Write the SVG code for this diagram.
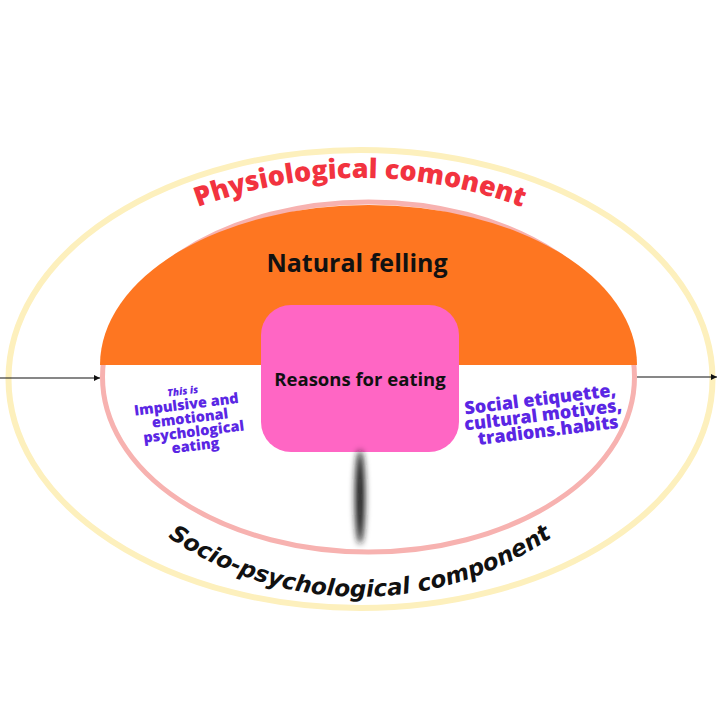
<svg xmlns="http://www.w3.org/2000/svg" width="720" height="720" viewBox="0 0 720 720">
  <style>
    .purple { fill: #5a26e4; font-family: "Open Sans", "Liberation Sans", sans-serif; font-weight: 800; text-anchor: middle; }
    .title { font-family: "Open Sans", "Liberation Sans", sans-serif; font-weight: 700; text-anchor: middle; fill: #111; }
    .conn { stroke: #111; stroke-width: 1.2; fill: none; marker-end: url(#arrow); }
  </style>
  <defs>
    <marker id="arrow" viewBox="0 0 10 10" refX="10" refY="5" markerWidth="6" markerHeight="6" markerUnits="userSpaceOnUse" orient="auto">
      <path d="M0,0 L10,5 L0,10 Z" fill="#111"/>
    </marker>
    <filter id="blur" x="-2" y="-0.5" width="5" height="2">
      <feGaussianBlur stdDeviation="3"/>
    </filter>
    <path id="topArc" d="M 130,238.6 A 467,467 0 0 1 590,238.6"/>
    <path id="botArc" d="M 120,497 A 338.6,338.6 0 0 0 600,497"/>
  </defs>
  <rect width="720" height="720" fill="#ffffff"/>

  <g id="outer">
    <ellipse cx="360.5" cy="379" rx="352" ry="229" fill="none" stroke="#fdf0bd" stroke-width="6"/>
  </g>

  <g id="inner">
    <ellipse cx="368.5" cy="377" rx="266" ry="175" fill="#ffffff" stroke="#f7b2b0" stroke-width="5"/>
    <path d="M 100,365 A 268.5,160 0 0 1 637,365 Z" fill="#fe7621"/>
    <text class="title" x="357" y="272" font-size="25">Natural felling</text>
  </g>

  <g id="outer-labels">
    <text font-family="Open Sans, Liberation Sans, sans-serif" font-weight="800" font-size="27" fill="#f2333f" text-anchor="middle">
      <textPath href="#topArc" startOffset="50%">Physiological comonent</textPath>
    </text>
    <text font-family="DejaVu Sans, sans-serif" font-weight="700" font-style="italic" font-size="23" fill="#111" text-anchor="middle">
      <textPath href="#botArc" startOffset="50%">Socio-psychological component</textPath>
    </text>
  </g>

  <g id="left-text" transform="rotate(-7 190 418)">
    <text class="purple" x="186" y="394" font-size="10" font-style="italic">This is</text>
    <text class="purple" x="188" y="409" font-size="14.5">Impulsive and</text>
    <text class="purple" x="190" y="423" font-size="14.5">emotional</text>
    <text class="purple" x="192" y="437" font-size="14.5">psychological</text>
    <text class="purple" x="192" y="451" font-size="14.5">eating</text>
  </g>

  <g id="right-text" transform="rotate(-7 543 414)">
    <text class="purple" x="542" y="405" font-size="18">Social etiquette,</text>
    <text class="purple" x="543" y="421" font-size="18">cultural motives,</text>
    <text class="purple" x="546" y="437" font-size="18">tradions.habits</text>
  </g>

  <g id="center">
    <rect x="261" y="305" width="198" height="147" rx="30" fill="#ff66c4"/>
    <text class="title" x="360" y="386" font-size="18.5">Reasons for eating</text>
    <ellipse cx="360" cy="497" rx="5" ry="47" fill="#1a1a1a" filter="url(#blur)"/>
  </g>

  <g id="connectors">
    <line class="conn" x1="0" y1="378" x2="100" y2="378"/>
    <line class="conn" x1="637" y1="377" x2="717" y2="377"/>
  </g>
</svg>
